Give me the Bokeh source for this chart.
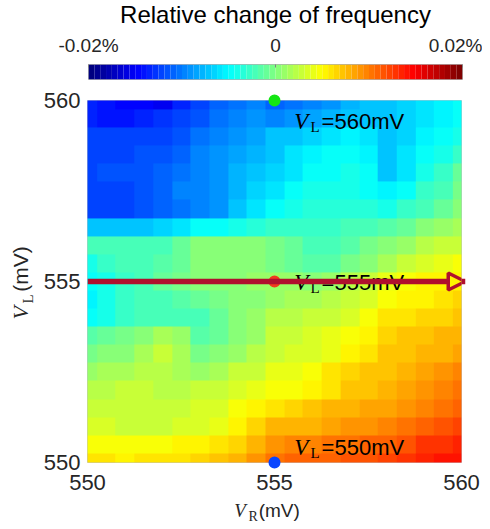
import numpy as np
from bokeh.plotting import figure
from bokeh.models import LinearColorMapper, Label, Arrow, NormalHead, FixedTicker, Range1d
from bokeh.layouts import column, row
from bokeh.embed import file_html
from bokeh.resources import INLINE

# ---------------- data ----------------
# grid every 0.5 mV
vr_values = [550.0, 550.5, 551.0, 551.5, 552.0, 552.5, 553.0, 553.5, 554.0, 554.5, 555.0,
             555.5, 556.0, 556.5, 557.0, 557.5, 558.0, 558.5, 559.0, 559.5, 560.0]   # V_R (mV)
vl_values = list(vr_values)                                                          # V_L (mV), bottom -> top
# relative change of frequency (%), row i <-> vl_values[i], column j <-> vr_values[j]
rel_change = [
    [0.0060, 0.0058, 0.0055, 0.0058, 0.0060, 0.0062, 0.0065, 0.0070, 0.0080, 0.0092, 0.0105, 0.0108, 0.0110, 0.0112, 0.0115, 0.0118, 0.0120, 0.0128, 0.0135, 0.0138, 0.0140],  # 550.0
    [0.0048, 0.0048, 0.0045, 0.0045, 0.0048, 0.0050, 0.0052, 0.0058, 0.0068, 0.0080, 0.0090, 0.0095, 0.0098, 0.0102, 0.0105, 0.0110, 0.0112, 0.0118, 0.0125, 0.0130, 0.0132],  # 550.5
    [0.0035, 0.0032, 0.0030, 0.0030, 0.0030, 0.0032, 0.0035, 0.0042, 0.0055, 0.0065, 0.0075, 0.0078, 0.0080, 0.0085, 0.0090, 0.0092, 0.0095, 0.0102, 0.0110, 0.0115, 0.0120],  # 551.0
    [0.0030, 0.0028, 0.0028, 0.0028, 0.0028, 0.0030, 0.0032, 0.0035, 0.0048, 0.0055, 0.0060, 0.0065, 0.0070, 0.0075, 0.0080, 0.0082, 0.0085, 0.0090, 0.0098, 0.0105, 0.0112],  # 551.5
    [0.0020, 0.0022, 0.0025, 0.0025, 0.0020, 0.0022, 0.0025, 0.0030, 0.0035, 0.0040, 0.0045, 0.0048, 0.0050, 0.0060, 0.0070, 0.0072, 0.0075, 0.0082, 0.0090, 0.0098, 0.0105],  # 552.0
    [0.0010, 0.0015, 0.0018, 0.0022, 0.0022, 0.0015, 0.0012, 0.0018, 0.0025, 0.0030, 0.0038, 0.0042, 0.0048, 0.0058, 0.0065, 0.0070, 0.0072, 0.0078, 0.0082, 0.0088, 0.0095],  # 552.5
    [-0.0005, 0.0000, 0.0005, 0.0015, 0.0025, 0.0015, -0.0005, 0.0002, 0.0010, 0.0020, 0.0030, 0.0032, 0.0035, 0.0042, 0.0050, 0.0062, 0.0070, 0.0072, 0.0075, 0.0080, 0.0085],  # 553.0
    [-0.0015, -0.0010, -0.0005, 0.0005, 0.0015, 0.0010, -0.0015, -0.0010, 0.0000, 0.0008, 0.0025, 0.0030, 0.0032, 0.0038, 0.0045, 0.0050, 0.0065, 0.0070, 0.0070, 0.0075, 0.0080],  # 553.5
    [-0.0045, -0.0038, -0.0030, -0.0025, -0.0020, -0.0022, -0.0020, -0.0010, 0.0000, 0.0010, 0.0020, 0.0022, 0.0025, 0.0030, 0.0035, 0.0045, 0.0060, 0.0062, 0.0065, 0.0068, 0.0070],  # 554.0
    [-0.0055, -0.0040, -0.0030, -0.0025, -0.0020, -0.0015, -0.0010, -0.0005, 0.0000, 0.0005, 0.0012, 0.0015, 0.0015, 0.0020, 0.0025, 0.0035, 0.0045, 0.0050, 0.0055, 0.0060, 0.0065],  # 554.5
    [-0.0050, -0.0040, -0.0030, -0.0020, -0.0010, -0.0005, 0.0000, 0.0003, 0.0005, 0.0008, 0.0010, 0.0008, 0.0005, 0.0010, 0.0020, 0.0030, 0.0040, 0.0045, 0.0050, 0.0052, 0.0055],  # 555.0
    [-0.0040, -0.0030, -0.0025, -0.0020, -0.0015, -0.0010, 0.0000, 0.0000, 0.0000, 0.0002, -0.0002, -0.0010, -0.0015, -0.0015, -0.0005, 0.0005, 0.0015, 0.0025, 0.0035, 0.0040, 0.0045],  # 555.5
    [-0.0025, -0.0025, -0.0025, -0.0022, -0.0020, -0.0010, 0.0000, 0.0000, 0.0000, 0.0000, -0.0005, -0.0012, -0.0020, -0.0020, -0.0015, -0.0005, 0.0005, 0.0012, 0.0020, 0.0025, 0.0030],  # 556.0
    [-0.0070, -0.0070, -0.0072, -0.0070, -0.0065, -0.0060, -0.0050, -0.0045, -0.0040, -0.0035, -0.0030, -0.0030, -0.0030, -0.0028, -0.0025, -0.0020, -0.0018, -0.0010, 0.0000, 0.0008, 0.0015],  # 556.5
    [-0.0120, -0.0120, -0.0120, -0.0115, -0.0110, -0.0105, -0.0100, -0.0090, -0.0075, -0.0060, -0.0050, -0.0042, -0.0035, -0.0035, -0.0035, -0.0037, -0.0040, -0.0030, -0.0020, -0.0010, 0.0000],  # 557.0
    [-0.0120, -0.0120, -0.0120, -0.0115, -0.0110, -0.0100, -0.0095, -0.0090, -0.0078, -0.0068, -0.0058, -0.0050, -0.0043, -0.0038, -0.0038, -0.0045, -0.0055, -0.0045, -0.0030, -0.0020, -0.0005],  # 557.5
    [-0.0120, -0.0118, -0.0115, -0.0113, -0.0110, -0.0103, -0.0095, -0.0088, -0.0080, -0.0073, -0.0065, -0.0058, -0.0050, -0.0045, -0.0040, -0.0050, -0.0070, -0.0058, -0.0040, -0.0028, -0.0010],  # 558.0
    [-0.0120, -0.0120, -0.0120, -0.0118, -0.0115, -0.0110, -0.0100, -0.0093, -0.0085, -0.0080, -0.0070, -0.0060, -0.0055, -0.0050, -0.0048, -0.0055, -0.0070, -0.0060, -0.0048, -0.0040, -0.0028],  # 558.5
    [-0.0120, -0.0125, -0.0125, -0.0125, -0.0120, -0.0115, -0.0105, -0.0098, -0.0090, -0.0085, -0.0075, -0.0070, -0.0065, -0.0060, -0.0055, -0.0060, -0.0070, -0.0065, -0.0055, -0.0050, -0.0040],  # 559.0
    [-0.0135, -0.0140, -0.0140, -0.0135, -0.0130, -0.0125, -0.0115, -0.0105, -0.0095, -0.0090, -0.0100, -0.0090, -0.0085, -0.0080, -0.0075, -0.0070, -0.0070, -0.0065, -0.0060, -0.0055, -0.0050],  # 559.5
    [-0.0135, -0.0140, -0.0145, -0.0150, -0.0155, -0.0135, -0.0120, -0.0110, -0.0105, -0.0098, -0.0110, -0.0105, -0.0100, -0.0090, -0.0080, -0.0075, -0.0070, -0.0065, -0.0060, -0.0055, -0.0050],  # 560.0
]
assert all(len(r) == len(vr_values) for r in rel_change) and len(rel_change) == len(vl_values)

cbar_low, cbar_high = -0.02, 0.02
cbar_ticks = [-0.02, 0.0, 0.02]
cbar_tick_labels = ["-0.02%", "0", "0.02%"]
axis_ticks = [550, 555, 560]
marker_vr = [555, 555, 555]
marker_vl = [560, 555, 550]
marker_colors = ["#14e614", "#f03a1e", "#0a46ff"]
marker_texts = ["=560mV", "=555mV", "=550mV"]
arrow_vl = 555
colorbar_title = "Relative change of frequency"


def jet_palette(n=64):
    t = np.linspace(0, 1, n)
    r = np.clip(np.minimum(4 * t - 1.5, -4 * t + 4.5), 0, 1)
    g = np.clip(np.minimum(4 * t - 0.5, -4 * t + 3.5), 0, 1)
    b = np.clip(np.minimum(4 * t + 0.5, -4 * t + 2.5), 0, 1)
    return ["#%02x%02x%02x" % (int(round(255 * a)), int(round(255 * c)), int(round(255 * d)))
            for a, c, d in zip(r, g, b)]


palette = jet_palette(64)
mapper = LinearColorMapper(palette=palette, low=cbar_low, high=cbar_high)

SANS = "Liberation Sans"
SERIF = "Liberation Serif"
TXT = "#262626"
FRAME_W, FRAME_H = 374, 362
LEFT, RIGHT = 87, 21          # left / right borders around the plot frames
YLAB_W = 40                   # width of the y-label strip
MAIN_TOP, MAIN_BOTTOM = 16, 37


def bare(**kw):
    f = figure(x_axis_location=None, y_axis_location=None, output_backend="svg",
               toolbar_location=None, **kw)
    f.grid.visible = False
    f.outline_line_color = None
    return f


# ---------------- colorbar title strip (same x scale as colorbar) ----------------
tf = bare(frame_width=FRAME_W, frame_height=31, x_range=Range1d(cbar_low, cbar_high), y_range=Range1d(0, 31),
          min_border_left=LEFT + 1, min_border_right=RIGHT - 1, min_border_top=0, min_border_bottom=0)
tf.add_layout(Label(x=0, y=17, text=colorbar_title, text_align="center", text_baseline="alphabetic",
                    text_font=SANS, text_font_size="24px", text_color="black"))

# ---------------- colorbar ----------------
cb = figure(frame_width=FRAME_W, frame_height=15,
            x_range=Range1d(cbar_low, cbar_high), y_range=Range1d(0, 1),
            min_border_left=LEFT + 1, min_border_right=RIGHT - 1, min_border_top=31, min_border_bottom=5,
            x_axis_location="above", output_backend="svg", toolbar_location=None)
edges = np.linspace(cbar_low, cbar_high, len(palette) + 1)
cb.quad(left=edges[:-1], right=edges[1:], bottom=0, top=1, fill_color=palette, line_color=None)
cb.yaxis.visible = False
cb.grid.visible = False
cb.outline_line_color = "#b0b0b0"
cb.xaxis.ticker = FixedTicker(ticks=cbar_ticks)
cb.xaxis.major_label_overrides = {k: v for k, v in zip(cbar_ticks, cbar_tick_labels)}
cb.xaxis.axis_line_color = None
cb.xaxis.major_tick_line_color = "#808080"
cb.xaxis.major_tick_out = 0
cb.xaxis.major_tick_in = 3
cb.xaxis.minor_tick_line_color = None
cb.xaxis.major_label_standoff = 9
cb.xaxis.major_label_text_font = SANS
cb.xaxis.major_label_text_font_size = "19px"
cb.xaxis.major_label_text_color = TXT

# ---------------- main figure ----------------
p = figure(frame_width=FRAME_W, frame_height=FRAME_H,
           x_range=Range1d(550, 560), y_range=Range1d(550, 560),
           min_border_left=LEFT - YLAB_W, min_border_right=RIGHT,
           min_border_top=MAIN_TOP, min_border_bottom=MAIN_BOTTOM,
           output_backend="svg", toolbar_location=None)
step = vr_values[1] - vr_values[0]
p.image(image=[np.array(rel_change)], x=vr_values[0] - step / 2, y=vl_values[0] - step / 2,
        dw=len(vr_values) * step, dh=len(vl_values) * step, color_mapper=mapper)
p.grid.visible = False
p.outline_line_color = "#c0c0c8"
for ax, standoff in ((p.xaxis, 12), (p.yaxis, 7)):
    ax.ticker = FixedTicker(ticks=axis_ticks)
    ax.axis_line_color = None
    ax.major_tick_line_color = None
    ax.major_tick_out = 0
    ax.major_tick_in = 0
    ax.minor_tick_line_color = None
    ax.minor_tick_out = 0
    ax.major_label_standoff = standoff
    ax.major_label_text_font = SANS
    ax.major_label_text_font_size = "22px"
    ax.major_label_text_color = TXT

# marker annotations (V_L = ... mV)
for vl, txt in zip(marker_vl, marker_texts):
    dy = {560: -0.58, 555: -0.03, 550: 0.41}[vl]
    p.add_layout(Label(x=555.53, y=vl + dy, text="V", text_font=SERIF, text_font_style="italic",
                       text_font_size="23px", text_color="black", text_baseline="alphabetic"))
    p.add_layout(Label(x=555.96, y=vl + dy - 0.14, text="L", text_font=SERIF,
                       text_font_size="15px", text_color="black", text_baseline="alphabetic"))
    p.add_layout(Label(x=556.26, y=vl + dy, text=txt, text_font=SANS,
                       text_font_size="22px", text_color="black", text_baseline="alphabetic"))

# arrow along V_L = 555 mV
p.add_layout(Arrow(end=NormalHead(size=17, fill_color=None, line_color="#b0102e", line_width=3.5),
                   x_start=550, y_start=arrow_vl, x_end=560.1, y_end=arrow_vl,
                   line_color="#b0102e", line_width=5.5, level="overlay"))

# markers
p.scatter(x=marker_vr, y=marker_vl, size=12, fill_color=marker_colors, line_color=None, level="overlay")

lab = dict(text_color=TXT, text_baseline="alphabetic")

# ---------------- y axis label strip (left of main plot, same y scale) ----------------
yl = bare(frame_width=YLAB_W, frame_height=FRAME_H, x_range=Range1d(0, YLAB_W), y_range=Range1d(550, 560),
          min_border_left=0, min_border_right=0, min_border_top=MAIN_TOP, min_border_bottom=MAIN_BOTTOM)
yl.add_layout(Label(x=19.6, y=553.95, text="V", text_font=SERIF, text_font_style="italic", angle=np.pi / 2,
                    text_font_size="22px", **lab))
yl.add_layout(Label(x=27.3, y=554.39, text="L", text_font=SERIF, angle=np.pi / 2,
                    text_font_size="15px", **lab))
yl.add_layout(Label(x=20.0, y=554.72, text="(mV)", text_font=SANS, angle=np.pi / 2,
                    text_font_size="21px", **lab))

# ---------------- x axis label strip (below main plot, same x scale) ----------------
xl = bare(frame_width=FRAME_W, frame_height=30, x_range=Range1d(550, 560), y_range=Range1d(0, 30),
          min_border_left=LEFT, min_border_right=RIGHT, min_border_top=0, min_border_bottom=0)
xl.add_layout(Label(x=553.90, y=19.2, text="V", text_font=SERIF, text_font_style="italic",
                    text_font_size="19px", **lab))
xl.add_layout(Label(x=554.28, y=13.3, text="R", text_font=SERIF, text_font_size="14px", **lab))
xl.add_layout(Label(x=554.55, y=19.2, text="(mV)", text_font=SANS, text_font_size="19px", **lab))

layout = column(tf, cb, row(yl, p, spacing=0), xl, spacing=0)
open("out.html", "w").write(file_html(layout, INLINE))
